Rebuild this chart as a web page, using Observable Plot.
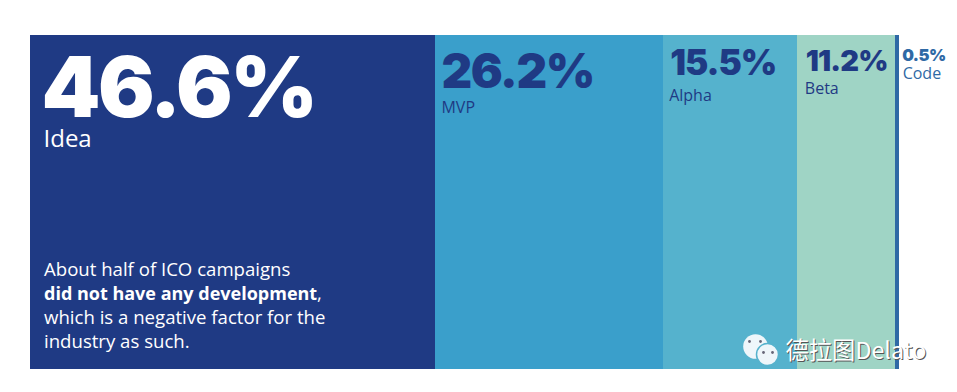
<!DOCTYPE html>
<html>
<head>
<meta charset="utf-8">
<script src="https://cdn.jsdelivr.net/npm/d3@7"></script>
<script src="https://cdn.jsdelivr.net/npm/@observablehq/plot@0.6"></script>
<style>
html,body{margin:0;padding:0;background:#fff;}
svg{display:block;}
.tight{letter-spacing:-0.03em;}
</style>
</head>
<body>
<div id="chart"></div>
<script>
const stages = ["Idea","MVP","Alpha","Beta","Code"];
const shares = [46.6,26.2,15.5,11.2,0.5];
const starts = [0,46.6,72.8,88.3,99.5];
const note = ["About half of ICO campaigns","did not have any development","which is a negative factor for the","industry as such."];
const palette = ["#1f3a84","#3a9fcb","#55b2cd","#9fd4c5","#2f69a5"];
const rows = stages.map((stage,i)=>({stage,share:shares[i],start:starts[i]}));
const sans = "'Open Sans',sans-serif";
const heavy = "Inter,Lato,sans-serif";
const topAnchor = {frameAnchor:"top",lineAnchor:"bottom",textAnchor:"start"};
const corner = {frameAnchor:"top-left"};

function pct(i,size,dx,dy,fill){
  return Plot.text([rows[i]],{...topAnchor,x:"start",text:d=>d.share.toFixed(1)+"%",fontFamily:heavy,fontWeight:900,fontSize:size,fill,dx,dy,className:"tight"});
}
function lab(i,size,dx,dy,fill){
  return Plot.text([rows[i]],{...topAnchor,x:"start",text:"stage",fontFamily:sans,fontSize:size,fill,dx,dy});
}
function eye(dx,dy){ return Plot.dot([0],{...corner,r:1.4,fill:"#667",dx,dy}); }
function wm(fill,dx,dy){
  return Plot.text(["德拉图Delato"],{...corner,lineAnchor:"bottom",textAnchor:"start",text:d=>d,fontFamily:"'Noto Sans CJK SC',sans-serif",fontSize:23.3,fill,dx,dy});
}
const noteDy=[240,264,288,312];
const plot = Plot.plot({
  width:957,height:392,
  marginLeft:30,marginRight:58,marginTop:35,marginBottom:23,
  x:{domain:[0,100],axis:null},
  y:{domain:["all"],axis:null,padding:0},
  color:{domain:stages,range:palette},
  style:{background:"#fff"},
  marks:[
    Plot.barX(rows,{x:"share",y:()=>"all",fill:"stage",order:null,shapeRendering:"crispEdges"}),
    pct(0,84,11,81,"#fff"), lab(0,24,13,111,"#fff"),
    pct(1,47.5,6,52,"#1f3a84"), lab(1,16,6,77,"#1f3a84"),
    pct(2,35,7,39,"#1f3a84"), lab(2,16,6,65,"#1f3a84"),
    pct(3,29,8,35,"#1f3a84"), lab(3,16,7,58,"#1f3a84"),
    pct(4,16.5,7,25,"#2f69a5"), lab(4,16,7.5,43,"#2f69a5"),
    ...note.map((line,i)=>Plot.text([line],{...topAnchor,x:()=>0,text:d=>d,fontFamily:sans,fontSize:i===1?18:18.6,fill:"#fff",fontWeight:i===1?700:400,dx:13.5,dy:noteDy[i]})),
    Plot.text([","],{...topAnchor,x:()=>0,text:d=>d,fontFamily:sans,fontSize:18.6,fill:"#fff",dx:286.5,dy:264}),
    Plot.dot([0],{...corner,r:12.3,fill:"#eef6fa",dx:725,dy:311}),
    Plot.dot([0],{...corner,r:11,fill:"#eef6fa",stroke:"#55b2cd",dx:737,dy:319}),
    eye(719,306), eye(730,306), eye(733,317), eye(742,317),
    wm("#555",756,324), wm("#fff",755,323)
  ]
});
document.getElementById("chart").append(plot);
</script>
</body>
</html>
